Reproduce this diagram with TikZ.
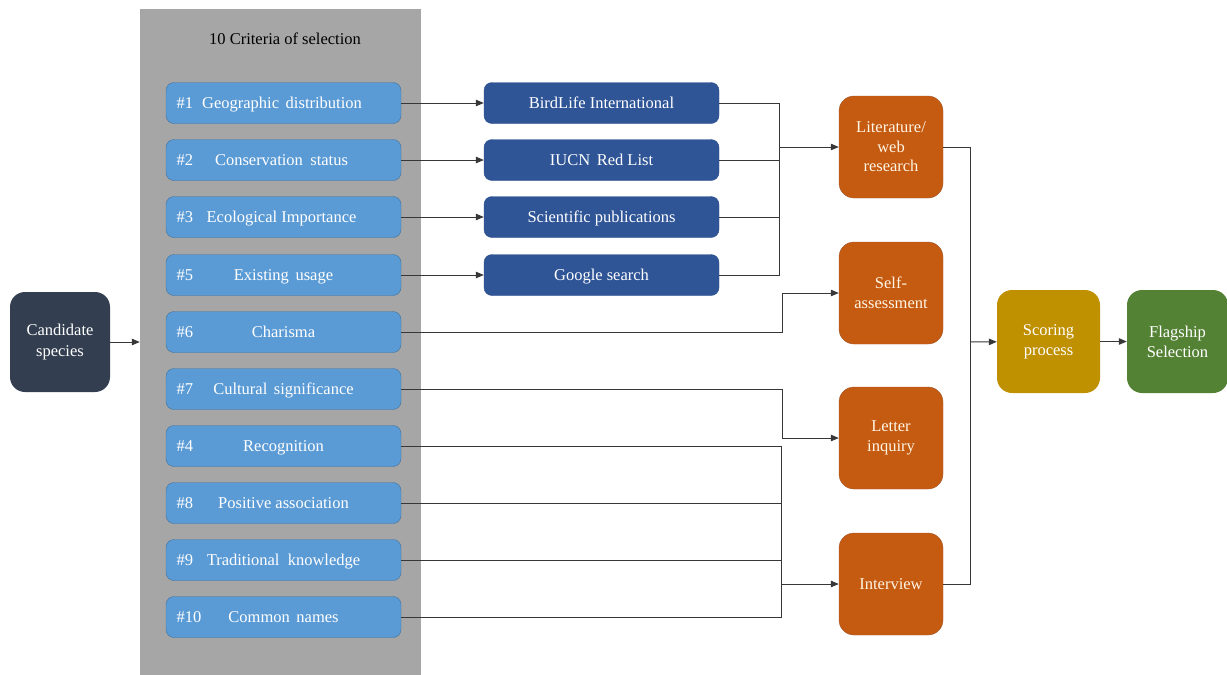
\documentclass[tikz,border=0pt]{standalone}
\usepackage{fontspec}
\setmainfont{Liberation Serif}
\usetikzlibrary{arrows.meta,calc}
\definecolor{panelgray}{RGB}{166,166,166}
\definecolor{critblue}{RGB}{91,155,213}
\definecolor{critedge}{RGB}{65,113,156}
\definecolor{srcblue}{RGB}{47,85,151}
\definecolor{srcedge}{RGB}{45,80,140}
\definecolor{orng}{RGB}{197,90,17}
\definecolor{orngedge}{RGB}{160,90,50}
\definecolor{navy}{RGB}{51,63,80}
\definecolor{gold}{RGB}{191,144,0}
\definecolor{leaf}{RGB}{84,130,53}
\definecolor{linec}{RGB}{55,55,55}
\definecolor{cream}{RGB}{255,245,228}
\tikzset{
  boxtext/.style={font=\fontsize{16.5}{19}\selectfont, text=white, inner sep=0pt, text height=11.5pt, text depth=0pt},
  crit/.style={boxtext, draw=critedge, fill=critblue, rounded corners=8pt, minimum width=235pt, minimum height=41pt},
  src/.style={boxtext, draw=srcedge, fill=srcblue, rounded corners=8pt, minimum width=235pt, minimum height=41pt},
  meth/.style={draw=orngedge, fill=orng, rounded corners=15pt, minimum width=104pt, minimum height=102pt, text=cream, align=center, font=\fontsize{16.5}{19.5}\selectfont, inner sep=0pt},
  fin/.style={rounded corners=15pt, minimum width=103pt, minimum height=103pt, text=white, align=center, font=\fontsize{16.5}{20}\selectfont, inner sep=0pt},
  num/.style={boxtext, anchor=west, xshift=10.5pt},
  conn/.style={draw=linec, line width=1pt},
  arr/.style={conn, -{Triangle[length=8pt,width=6.5pt]}}
}
\begin{document}
\begin{tikzpicture}[x=1pt,y=-1pt]
\useasboundingbox (0,0) rectangle (1227,675);
% gray panel
\node[fill=panelgray, minimum width=281pt, minimum height=666pt, inner sep=0pt] (panel) at (280.5,342) {};
\node[font=\fontsize{16.5}{19}\selectfont] (title) at (285,39) {10 Criteria of selection};
% candidate
\node[fill=navy, rounded corners=15pt, minimum width=100pt, minimum height=100pt, text=white, align=center, font=\fontsize{16.5}{21}\selectfont, inner sep=0pt] (cand) at (60,342) {Candidate\\species};
% criteria
\node[crit, label={[num]west:\#1}] (c1) at (283.5,103) {\hspace*{-3pt}Geographic\hspace{0.4em}distribution};
\node[crit, label={[num]west:\#2}] (c2) at (283.5,160) {\hspace*{-4pt}Conservation\hspace{0.45em}status};
\node[crit, label={[num]west:\#3}] (c3) at (283.5,217) {\hspace*{-4pt}Ecological Importance};
\node[crit, label={[num]west:\#5}] (c5) at (283.5,275) {Existing\hspace{0.4em}usage};
\node[crit, label={[num]west:\#6}] (c6) at (283.5,332) {Charisma};
\node[crit, label={[num]west:\#7}] (c7) at (283.5,389) {Cultural\hspace{0.4em}significance};
\node[crit, label={[num]west:\#4}] (c4) at (283.5,446) {Recognition};
\node[crit, label={[num]west:\#8}] (c8) at (283.5,503) {Positive association};
\node[crit, label={[num]west:\#9}] (c9) at (283.5,560) {Traditional\hspace{0.5em}knowledge};
\node[crit, label={[num]west:\#10}] (c10) at (283.5,617) {Common\hspace{0.4em}names};
% sources
\node[src] (s1) at (601.5,103) {BirdLife International};
\node[src] (s2) at (601.5,160) {IUCN\hspace{0.4em}Red List};
\node[src] (s3) at (601.5,217) {Scientific publications};
\node[src] (s4) at (601.5,275) {Google search};
% methods
\node[meth] (lit) at (891,147) {Literature/\\web\\research};
\node[meth] (self) at (891,293) {Self-\\assessment};
\node[meth] (letter) at (891,438) {Letter\\inquiry};
\node[meth] (inter) at (891,584) {Interview};
% final
\node[fin, fill=gold] (score) at (1048.5,341.5) {Scoring\\process};
\node[fin, fill=leaf, minimum width=101pt] (flag) at (1177.5,341.5) {Flagship\\Selection};
% junctions
\coordinate (j1) at (779,147);
\coordinate (k6) at (782,332);
\coordinate (k7) at (782,389);
\coordinate (j2) at (781,584);
\coordinate (j3) at (970,342);
% connectors
\draw[arr] (cand) -- (panel);
\draw[arr] (c1) -- (s1);
\draw[arr] (c2) -- (s2);
\draw[arr] (c3) -- (s3);
\draw[arr] (c5) -- (s4);
\draw[conn] (s1.east) -| (j1);
\draw[conn] (s2.east) -| (j1);
\draw[conn] (s3.east) -| (j1);
\draw[conn] (s4.east) -| (j1);
\draw[arr] (j1) -- (lit);
\draw[arr] (c6.east) -- (k6) |- (self.west);
\draw[arr] (c7.east) -- (k7) |- (letter.west);
\draw[conn] (c4.east) -| (j2);
\draw[conn] (c8.east) -| (j2);
\draw[conn] (c9.east) -| (j2);
\draw[conn] (c10.east) -| (j2);
\draw[arr] (j2) -- (inter);
\draw[conn] (lit.east) -| (j3);
\draw[conn] (inter.east) -| (j3);
\draw[arr] (j3) -- (score);
\draw[arr] (score) -- (flag);
\end{tikzpicture}
\end{document}
